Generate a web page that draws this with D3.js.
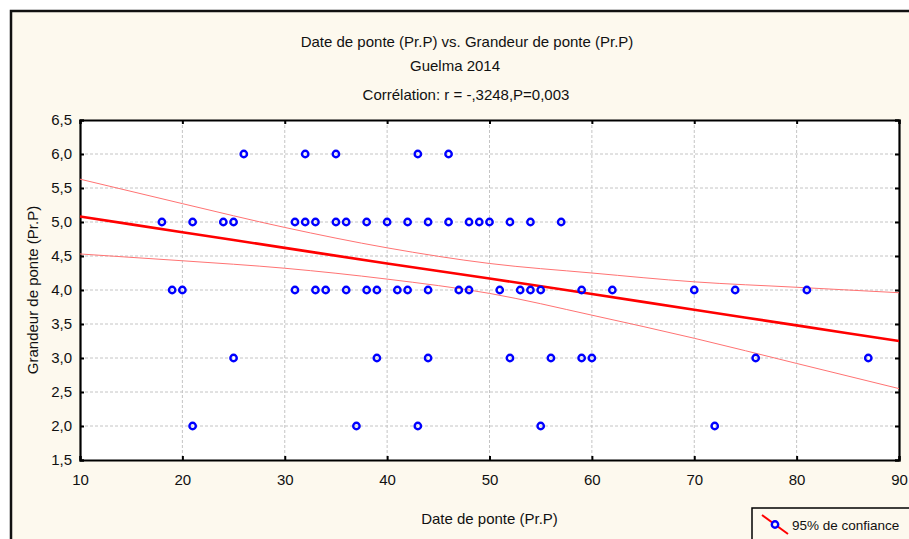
<!DOCTYPE html>
<html>
<head>
<meta charset="utf-8">
<script src="https://cdn.jsdelivr.net/npm/d3@7"></script>
<style>
body { margin: 0; background: #fff; }
text { font-family: "Liberation Sans Narrow", "Arial Narrow", "Liberation Sans", Arial, sans-serif; fill: #111; }
</style>
</head>
<body>
<svg id="chart" width="909" height="539"></svg>
<script>
// clutch dates (Pr.P) grouped by clutch size
const sizes = [6, 5, 4, 3, 2]
const dates6 = [26, 32, 35, 43, 46]
const dates5 = [18, 21, 24, 25, 31, 32, 33, 35, 36, 38, 40, 42, 44, 46, 48, 49, 50, 52, 54, 57]
const dates4 = [19, 20, 31, 33, 34, 36, 38, 39, 41, 42, 44, 47, 48, 51, 53, 54, 55, 59, 62, 70, 74, 81]
const dates3 = [25, 39, 44, 52, 56, 59, 60, 76, 87]
const dates2 = [21, 37, 43, 55, 72]

// regression line and 95% band
const bandX = [10, 20, 30, 40, 50, 60, 70, 80, 90]
const fitY = [5.08, 4.85, 4.62, 4.39, 4.17, 3.94, 3.71, 3.48, 3.25]
const upperY = [5.63, 5.27, 4.92, 4.62, 4.39, 4.25, 4.12, 4.04, 3.96]
const lowerY = [4.53, 4.43, 4.32, 4.16, 3.95, 3.63, 3.29, 2.92, 2.55]

const xTicks = [10, 20, 30, 40, 50, 60, 70, 80, 90]
const yTicks = [1.5, 2, 2.5, 3, 3.5, 4, 4.5, 5, 5.5, 6, 6.5]

const titleLines = ['Date de ponte (Pr.P) vs. Grandeur de ponte (Pr.P)', 'Guelma 2014', 'Corrélation: r = -,3248,P=0,003']
const xTitle = 'Date de ponte (Pr.P)'
const yTitle = 'Grandeur de ponte (Pr.P)'
const legendLabel = '95% de confiance'

const points = []
;[dates6, dates5, dates4, dates3, dates2].forEach((arr, i) => {
	arr.forEach(d => points.push({x: d, y: sizes[i]}))
})

const svg = d3.select('#chart')

const fr = d3.formatLocale({decimal: ',', thousands: ' ', grouping: [3], currency: ['', '']})
const fmtY = fr.format('.1f')

const x = d3.scaleLinear().domain([10, 90]).range([80, 899])
const y = d3.scaleLinear().domain([1.5, 6.5]).range([460, 120])

// outer frame
svg.append('rect')
.attr('x', 11).attr('y', 11)
.attr('width', 920).attr('height', 540)
.attr('fill', '#fdf9ee')
.attr('stroke', '#111')
.attr('stroke-width', 2.5)

// titles
const titleY = [42, 66, 95]
const titleX = [467, 455, 466]
titleLines.forEach((t, i) => {
	svg.append('text')
	.attr('x', titleX[i]).attr('y', titleY[i])
	.attr('dy', '0.35em')
	.attr('text-anchor', 'middle')
	.attr('font-size', 15)
	.text(t)
})

// plot area
svg.append('rect')
.attr('x', x(10)).attr('y', y(6.5))
.attr('width', x(90) - x(10)).attr('height', y(1.5) - y(6.5))
.attr('fill', '#fff')

const grid = svg.append('g')

grid.selectAll('.gx')
.data(xTicks.slice(1, -1))
.enter()
.append('line')
.attr('x1', d => x(d)).attr('x2', d => x(d))
.attr('y1', y(6.5)).attr('y2', y(1.5))
.attr('stroke', '#c4c4c4')
.attr('stroke-dasharray', '3,2')

grid.selectAll('.gy')
.data(yTicks.slice(1, -1))
.enter()
.append('line')
.attr('x1', x(10)).attr('x2', x(90))
.attr('y1', d => y(d)).attr('y2', d => y(d))
.attr('stroke', '#c4c4c4')
.attr('stroke-dasharray', '3,2')

// axes, ticks pointing inward on all sides
const axisB = d3.axisBottom(x).tickValues(xTicks).tickSize(-4).tickPadding(14).tickFormat(d3.format('d'))
const axisT = d3.axisTop(x).tickValues(xTicks).tickSize(-4).tickFormat('')
const axisL = d3.axisLeft(y).tickValues(yTicks).tickSize(-4).tickPadding(8).tickFormat(fmtY)
const axisR = d3.axisRight(y).tickValues(yTicks).tickSize(-4).tickFormat('')

const drawAxis = (ax, tr) => {
	const g = svg.append('g').attr('transform', tr).call(ax)
	g.select('.domain').attr('stroke', '#000').attr('stroke-width', 2.2)
	g.selectAll('.tick line').attr('stroke', '#000').attr('stroke-width', 2)
	g.selectAll('.tick text').attr('font-size', 15).attr('fill', '#111')
		.style('font-family', '"Liberation Sans Narrow", "Arial Narrow", "Liberation Sans", Arial, sans-serif')
	return g
}

drawAxis(axisB, `translate(0,${y(1.5)})`)
drawAxis(axisT, `translate(0,${y(6.5)})`)
drawAxis(axisL, `translate(${x(10)},0)`)
drawAxis(axisR, `translate(${x(90)},0)`)

// confidence band and fit
const bandLine = arr => d3.line()
.x((d, i) => x(bandX[i]))
.y(d => y(d))
.curve(d3.curveMonotoneX)(arr)

svg.append('path')
.attr('d', bandLine(upperY))
.attr('fill', 'none')
.attr('stroke', '#ff7373')
.attr('stroke-width', 1)

svg.append('path')
.attr('d', bandLine(lowerY))
.attr('fill', 'none')
.attr('stroke', '#ff7373')
.attr('stroke-width', 1)

svg.append('path')
.attr('d', bandLine(fitY))
.attr('fill', 'none')
.attr('stroke', '#ff0000')
.attr('stroke-width', 2.6)

// points
svg.append('g')
.selectAll('circle')
.data(points)
.enter()
.append('circle')
.attr('cx', d => x(d.x))
.attr('cy', d => y(d.y))
.attr('r', 3.2)
.attr('fill', 'none')
.attr('stroke', '#0000ff')
.attr('stroke-width', 2.4)

// axis titles
svg.append('text')
.attr('x', (x(10) + x(90)) / 2)
.attr('y', 519)
.attr('dy', '0.35em')
.attr('text-anchor', 'middle')
.attr('font-size', 15)
.text(xTitle)

svg.append('text')
.attr('transform', `translate(33,${(y(1.5) + y(6.5)) / 2}) rotate(-90)`)
.attr('dy', '0.35em')
.attr('text-anchor', 'middle')
.attr('font-size', 15)
.text(yTitle)

// legend
const legend = svg.append('g')

legend.append('rect')
.attr('x', 752).attr('y', 508)
.attr('width', 200).attr('height', 60)
.attr('fill', '#fdf9ee')
.attr('stroke', '#000')
.attr('stroke-width', 1.5)

legend.append('line')
.attr('x1', 762).attr('y1', 515)
.attr('x2', 788).attr('y2', 534)
.attr('stroke', '#ff0000')
.attr('stroke-width', 2)

legend.append('circle')
.attr('cx', 775).attr('cy', 524.5)
.attr('r', 3.2)
.attr('fill', '#fdf9ee')
.attr('stroke', '#0000ff')
.attr('stroke-width', 2.4)

legend.append('text')
.attr('x', 792).attr('y', 525)
.attr('dy', '0.35em')
.attr('font-size', 13.5)
.text(legendLabel)
</script>
</body>
</html>
